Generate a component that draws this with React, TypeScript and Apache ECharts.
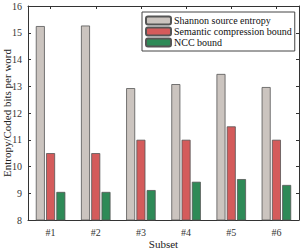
import React, { useEffect, useRef } from "react";
import * as echarts from "echarts";

const categories = ["#1", "#2", "#3", "#4", "#5", "#6"];
const shannon = [15.25, 15.27, 12.93, 13.08, 13.46, 12.97];
const semantic = [10.5, 10.5, 11.0, 11.0, 11.5, 11.0];
const ncc = [9.05, 9.05, 9.12, 9.43, 9.53, 9.31];
const seriesNames = ["Shannon source entropy", "Semantic compression bound", "NCC bound"];
const colors = ["#cbc4bf", "#d45b5b", "#2e8a57"];

const FONT = "Liberation Serif";

export default function App() {
  const ref = useRef<HTMLDivElement>(null);
  useEffect(() => {
    if (!ref.current) return;
    const chart = echarts.init(ref.current, undefined, { renderer: "svg" });
    const axisLine = { show: true, lineStyle: { color: "#333", width: 1 } };
    const tick = { show: true, inside: true, length: 3, lineStyle: { color: "#333" } };
    const datas = [shannon, semantic, ncc];
    chart.setOption({
      animation: false,
      textStyle: { fontFamily: FONT },
      grid: { left: 28, right: 7, top: 6, bottom: 30, containLabel: false, outerBoundsMode: "none" },
      legend: {
        orient: "vertical",
        left: 142,
        top: 12,
        padding: [3, 3, 3, 3],
        itemWidth: 25,
        itemHeight: 8,
        itemGap: 0,
        borderColor: "#444",
        borderWidth: 1,
        backgroundColor: "#fff",
        textStyle: { fontFamily: FONT, fontSize: 10, color: "#111", lineHeight: 11, padding: [0, 0, 0, -2] },
        data: seriesNames,
      },
      xAxis: [
        {
          type: "category",
          data: categories,
          position: "bottom",
          axisLine,
          axisTick: { ...tick, alignWithLabel: true },
          axisLabel: { fontFamily: FONT, fontSize: 10, color: "#333", margin: 7 },
          name: "Subset",
          nameLocation: "middle",
          nameGap: 18,
          nameMoveOverlap: false,
          nameTextStyle: { fontFamily: FONT, fontSize: 11, color: "#222" },
        },
        {
          type: "category",
          data: categories,
          position: "top",
          axisLine,
          axisTick: { ...tick, alignWithLabel: true },
          axisLabel: { show: false },
        },
      ],
      yAxis: [
        {
          type: "value",
          min: 8,
          max: 16,
          interval: 1,
          position: "left",
          axisLine,
          axisTick: tick,
          splitLine: { show: false },
          axisLabel: { fontFamily: FONT, fontSize: 10, color: "#333", margin: 6 },
          name: "Entropy/Coded bits per word",
          nameLocation: "middle",
          nameGap: 16,
          nameMoveOverlap: false,
          nameTextStyle: { fontFamily: FONT, fontSize: 11, color: "#222" },
        },
        {
          type: "value",
          min: 8,
          max: 16,
          interval: 1,
          position: "right",
          axisLine,
          axisTick: tick,
          splitLine: { show: false },
          axisLabel: { show: false },
        },
      ],
      series: seriesNames.map((name, i) => ({
        name,
        type: "bar",
        data: datas[i],
        barWidth: 9,
        barGap: "14%",
        itemStyle: { color: colors[i], borderColor: "#555", borderWidth: 0.8 },
      })),
    });
    return () => chart.dispose();
  }, []);
  return <div ref={ref} style={{ position: "absolute", left: 0, top: 0, width: 306, height: 250 }} />;
}
